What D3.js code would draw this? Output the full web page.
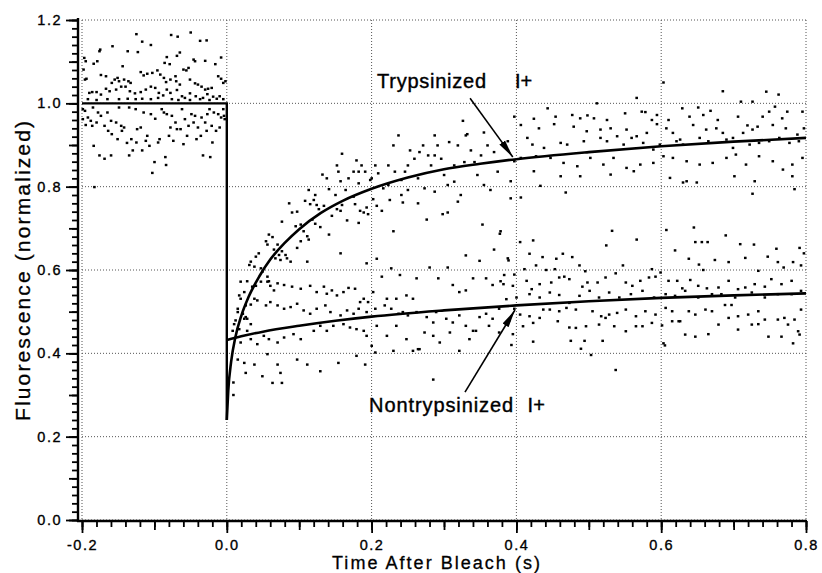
<!DOCTYPE html>
<html>
<head>
<meta charset="utf-8">
<script src="https://cdn.jsdelivr.net/npm/d3@7"></script>
<style>
  body { margin: 0; background: #fff; }
  svg text { font-family: "Liberation Sans", Arial, Helvetica, sans-serif; fill: #000; }
</style>
</head>
<body>
<div id="chart"></div>
<script>
// tick values
var xTicks = [-0.2, 0.0, 0.2, 0.4, 0.6, 0.8];
var yTicks = [0.0, 0.2, 0.4, 0.6, 0.8, 1.0, 1.2];

// fitted curves [time (s), fluorescence]
var preBleachFit = [[-0.2, 1.0], [0.0, 1.0], [0.0, 0.24]];
var trypsFit = [[0.000,0.24],[0.002,0.31],[0.006,0.38],[0.012,0.44],[0.020,0.49],[0.030,0.535],
  [0.045,0.585],[0.060,0.625],[0.080,0.665],[0.100,0.698],[0.130,0.737],[0.160,0.766],[0.200,0.795],
  [0.250,0.822],[0.300,0.842],[0.350,0.855],[0.400,0.866],[0.500,0.883],[0.600,0.897],[0.700,0.908],[0.800,0.917]];
var nontrypsFit = [[0.000,0.432],[0.020,0.441],[0.050,0.452],[0.100,0.466],[0.150,0.478],[0.200,0.488],
  [0.300,0.503],[0.400,0.515],[0.500,0.525],[0.600,0.533],[0.700,0.539],[0.800,0.544]];

// raw points before the bleach
var preBleachDots = [
  [-0.125,1.166],[-0.077,1.164],[-0.068,1.160],[-0.050,1.170],[-0.037,1.150],[-0.028,1.151],[-0.117,1.148],[-0.105,1.140],
  [-0.158,1.137],[-0.175,1.129],[-0.176,1.125],[-0.137,1.125],[-0.123,1.123],[-0.065,1.122],[-0.069,1.114],[-0.083,1.111],
  [-0.046,1.105],[-0.044,1.101],[-0.008,1.110],[-0.030,1.102],[-0.016,1.094],[-0.079,1.094],[-0.086,1.097],[-0.197,1.109],
  [-0.195,1.101],[-0.179,1.101],[-0.184,1.095],[-0.144,1.089],[-0.198,1.081],[-0.196,1.057],[-0.194,1.059],[-0.174,1.068],
  [-0.167,1.065],[-0.155,1.057],[-0.159,1.049],[-0.151,1.061],[-0.149,1.053],[-0.142,1.057],[-0.136,1.053],[-0.133,1.049],
  [-0.119,1.075],[-0.115,1.067],[-0.110,1.071],[-0.103,1.073],[-0.096,1.079],[-0.092,1.069],[-0.087,1.061],[-0.084,1.051],
  [-0.078,1.057],[-0.071,1.065],[-0.070,1.053],[-0.065,1.045],[-0.060,1.081],[-0.056,1.079],[-0.053,1.085],[-0.051,1.057],
  [-0.044,1.048],[-0.040,1.045],[-0.035,1.040],[-0.030,1.033],[-0.026,1.035],[-0.021,1.037],[-0.012,1.065],[-0.008,1.059],
  [-0.005,1.049],[-0.002,1.053],[-0.190,1.025],[-0.186,1.027],[-0.180,1.027],[-0.174,1.021],[-0.167,1.035],[-0.162,1.029],
  [-0.153,1.033],[-0.146,1.040],[-0.140,1.040],[-0.134,1.029],[-0.127,1.024],[-0.119,1.027],[-0.112,1.033],[-0.105,1.040],
  [-0.099,1.037],[-0.094,1.025],[-0.088,1.019],[-0.083,1.033],[-0.078,1.025],[-0.069,1.032],[-0.062,1.017],[-0.058,1.013],
  [-0.051,1.024],[-0.043,1.017],[-0.033,1.013],[-0.027,1.022],[-0.019,1.016],[-0.014,1.011],[-0.010,1.017],[-0.005,1.010],
  [-0.192,1.010],[-0.180,1.008],[-0.165,1.010],[-0.149,1.010],[-0.137,1.011],[-0.126,1.010],[-0.117,1.011],[-0.105,1.010],
  [-0.095,1.013],[-0.076,1.010],[-0.067,1.008],[-0.051,1.008],[-0.037,1.010],[-0.024,1.008],
  [-0.196,0.982],[-0.192,0.966],[-0.188,0.958],[-0.185,0.990],[-0.180,0.954],[-0.178,0.978],[-0.174,0.970],[-0.169,0.946],
  [-0.165,0.978],[-0.160,0.958],[-0.159,0.926],[-0.153,0.954],[-0.149,0.990],[-0.146,0.946],[-0.142,0.942],[-0.135,0.990],
  [-0.132,0.914],[-0.126,0.986],[-0.124,0.938],[-0.119,0.942],[-0.115,0.978],[-0.110,0.922],[-0.105,0.974],[-0.099,0.963],
  [-0.095,0.906],[-0.090,0.986],[-0.087,0.978],[-0.083,0.974],[-0.080,0.922],[-0.076,0.970],[-0.071,0.954],[-0.069,0.938],
  [-0.062,0.986],[-0.058,0.962],[-0.053,0.946],[-0.049,0.974],[-0.044,0.970],[-0.040,0.942],[-0.035,0.966],[-0.030,0.954],
  [-0.028,0.934],[-0.024,0.986],[-0.021,0.946],[-0.015,0.934],[-0.010,0.942],[-0.008,0.966],[-0.005,0.986],[-0.184,0.898],
  [-0.176,0.875],[-0.169,0.867],[-0.160,0.875],[-0.135,0.875],[-0.130,0.887],[-0.117,0.887],[-0.103,0.833],[-0.100,0.859],
  [-0.085,0.871],[-0.084,0.852],[-0.060,0.902],[-0.042,0.914],[-0.033,0.875],[-0.023,0.871],[-0.020,0.906],[-0.199,0.986],
  [-0.199,0.962],[-0.195,0.948],[-0.186,0.946],[-0.164,0.934],[-0.151,0.914],[-0.145,0.934],[-0.138,0.905],[-0.125,0.906],
  [-0.112,0.910],[-0.107,0.898],[-0.093,0.914],[-0.078,0.942],[-0.074,0.910],[-0.064,0.938],[-0.055,0.922],[-0.046,0.954],
  [-0.036,0.922],[-0.027,0.974],[-0.018,0.978],[-0.012,0.974],[-0.004,0.970],[-0.003,0.962],[-0.183,0.799]
];

// raw points, trypsinized cells
var trypsDots = [
  [0.086,0.760],[0.090,0.738],[0.097,0.740],[0.108,0.766],[0.115,0.758],[0.120,0.768],[0.124,0.756],[0.127,0.746],
  [0.134,0.754],[0.145,0.730],[0.152,0.746],[0.157,0.742],[0.159,0.756],[0.177,0.758],[0.184,0.742],[0.189,0.738],
  [0.193,0.750],[0.195,0.734],[0.202,0.770],[0.207,0.754],[0.214,0.742],[0.225,0.768],[0.230,0.693],[0.243,0.762],
  [0.264,0.760],[0.276,0.721],[0.298,0.734],[0.305,0.738],[0.319,0.764],[0.353,0.709],[0.369,0.649],[0.378,0.693],
  [0.388,0.628],[0.392,0.772],[0.076,0.716],[0.095,0.705],[0.102,0.709],[0.106,0.693],[0.111,0.681],[0.113,0.673],
  [0.118,0.721],[0.122,0.711],[0.129,0.703],[0.141,0.685],[0.166,0.719],[0.182,0.713],[0.058,0.685],[0.063,0.679],
  [0.054,0.669],[0.056,0.661],[0.070,0.661],[0.076,0.645],[0.081,0.636],[0.083,0.628],[0.067,0.628],[0.074,0.624],
  [0.088,0.620],[0.044,0.640],[0.040,0.632],[0.033,0.620],[0.031,0.612],[0.038,0.608],[0.047,0.604],[0.049,0.596],
  [0.056,0.584],[0.065,0.649],[0.072,0.636],[0.157,0.640],[0.111,0.620],[0.097,0.653],[0.102,0.669],[0.207,0.627],
  [0.330,0.635],[0.349,0.622],[0.193,0.616],
  [0.019,0.572],[0.028,0.573],[0.035,0.560],[0.040,0.562],[0.024,0.547],[0.017,0.539],[0.019,0.531],[0.026,0.515],
  [0.033,0.517],[0.015,0.507],[0.022,0.495],[0.026,0.487],[0.012,0.479],[0.010,0.470],[0.017,0.458],[0.008,0.454],
  [0.028,0.483],[0.033,0.470],[0.038,0.531],[0.042,0.527],[0.047,0.572],[0.058,0.573],[0.060,0.562],[0.065,0.551],
  [0.132,0.829],[0.138,0.820],[0.141,0.794],[0.152,0.851],[0.154,0.836],[0.157,0.813],[0.159,0.879],[0.164,0.792],
  [0.168,0.820],[0.175,0.836],[0.179,0.863],[0.182,0.808],[0.186,0.851],[0.191,0.836],[0.198,0.816],[0.205,0.851],
  [0.209,0.832],[0.216,0.796],[0.223,0.804],[0.230,0.899],[0.232,0.836],[0.237,0.923],[0.241,0.816],[0.246,0.836],
  [0.253,0.887],[0.259,0.867],[0.264,0.820],[0.266,0.883],[0.271,0.899],[0.273,0.796],[0.278,0.875],[0.282,0.851],
  [0.287,0.923],[0.291,0.899],[0.296,0.867],[0.300,0.828],[0.307,0.907],[0.314,0.812],[0.319,0.899],[0.326,0.958],
  [0.330,0.923],[0.332,0.926],[0.337,0.887],[0.342,0.859],[0.346,0.828],[0.351,0.875],[0.355,0.930],[0.360,0.899],
  [0.364,0.792],[0.369,0.883],[0.374,0.836],[0.241,0.780],[0.250,0.792],[0.287,0.788],[0.305,0.804],[0.323,0.780],
  [0.355,0.804],[0.113,0.792],[0.122,0.780],[0.150,0.780],[0.175,0.776],[0.328,0.859],[0.314,0.851],[0.287,0.875],
  [0.250,0.851],[0.223,0.851],[0.200,0.820],[0.182,0.836],
  [0.566,1.013],[0.603,1.050],[0.511,1.000],[0.710,1.004],[0.726,1.004],[0.685,1.029],[0.745,1.028],[0.762,1.021],
  [0.443,0.988],[0.454,0.968],[0.424,0.963],[0.397,0.968],[0.477,0.972],[0.488,0.964],[0.498,0.971],[0.507,0.964],
  [0.525,0.960],[0.550,0.976],[0.573,0.980],[0.578,0.979],[0.587,0.960],[0.594,0.972],[0.610,0.960],[0.629,0.988],
  [0.639,0.968],[0.651,0.990],[0.658,0.972],[0.668,0.982],[0.678,0.960],[0.706,0.968],[0.719,0.947],[0.740,0.968],
  [0.749,0.980],[0.757,0.992],[0.767,0.964],[0.774,0.980],[0.795,0.980],[0.406,0.948],[0.431,0.940],[0.452,0.950],
  [0.479,0.944],[0.497,0.933],[0.516,0.937],[0.530,0.940],[0.552,0.937],[0.566,0.921],[0.580,0.929],[0.594,0.950],
  [0.607,0.940],[0.616,0.929],[0.626,0.913],[0.644,0.948],[0.662,0.937],[0.676,0.940],[0.685,0.929],[0.699,0.917],
  [0.713,0.929],[0.726,0.937],[0.733,0.944],[0.754,0.948],[0.772,0.940],[0.788,0.925],[0.797,0.940],[0.388,0.909],
  [0.415,0.917],[0.422,0.901],[0.438,0.893],[0.461,0.905],[0.470,0.901],[0.493,0.909],[0.516,0.917],[0.525,0.909],
  [0.539,0.921],[0.548,0.901],[0.559,0.917],[0.575,0.905],[0.589,0.889],[0.598,0.901],[0.621,0.909],[0.630,0.901],
  [0.653,0.917],[0.665,0.909],[0.690,0.913],[0.699,0.893],[0.722,0.901],[0.735,0.905],[0.749,0.909],[0.763,0.917],
  [0.777,0.905],[0.790,0.909],[0.397,0.861],[0.406,0.869],[0.427,0.873],[0.447,0.869],[0.465,0.857],[0.484,0.849],
  [0.502,0.869],[0.520,0.853],[0.534,0.869],[0.552,0.845],[0.571,0.853],[0.589,0.857],[0.603,0.873],[0.616,0.869],
  [0.635,0.861],[0.653,0.853],[0.671,0.857],[0.690,0.869],[0.703,0.877],[0.717,0.853],[0.735,0.873],[0.754,0.861],
  [0.768,0.841],[0.781,0.853],[0.795,0.869],[0.424,0.837],[0.461,0.825],[0.488,0.825],[0.530,0.829],[0.562,0.837],
  [0.612,0.821],[0.630,0.810],[0.635,0.813],[0.649,0.810],[0.701,0.825],[0.729,0.813],[0.781,0.825],[0.433,0.802],
  [0.468,0.786],[0.784,0.794],[0.726,0.783],[0.406,0.774],[0.392,0.813]
];

// raw points, nontrypsinized cells
var nontrypsDots = [
  [0.009,0.330],[0.009,0.300],
  [0.056,0.572],[0.070,0.568],[0.079,0.564],[0.090,0.560],[0.102,0.555],[0.115,0.562],[0.124,0.547],[0.134,0.560],
  [0.138,0.543],[0.145,0.551],[0.152,0.539],[0.161,0.547],[0.168,0.557],[0.177,0.555],[0.184,0.523],[0.189,0.531],
  [0.195,0.523],[0.202,0.547],[0.214,0.584],[0.221,0.531],[0.227,0.604],[0.234,0.531],[0.239,0.588],[0.248,0.539],
  [0.257,0.531],[0.262,0.580],[0.280,0.606],[0.292,0.580],[0.305,0.606],[0.312,0.564],[0.321,0.547],[0.330,0.551],
  [0.340,0.580],[0.358,0.580],[0.367,0.564],[0.378,0.573],[0.383,0.588],[0.397,0.589],[0.054,0.515],[0.060,0.523],
  [0.070,0.515],[0.079,0.507],[0.088,0.511],[0.097,0.519],[0.106,0.503],[0.115,0.495],[0.124,0.507],[0.136,0.515],
  [0.143,0.499],[0.157,0.491],[0.166,0.503],[0.175,0.495],[0.182,0.507],[0.193,0.499],[0.205,0.507],[0.218,0.515],
  [0.227,0.507],[0.237,0.495],[0.243,0.499],[0.250,0.491],[0.262,0.499],[0.276,0.487],[0.285,0.474],[0.289,0.499],
  [0.303,0.483],[0.312,0.474],[0.321,0.491],[0.330,0.466],[0.340,0.454],[0.349,0.487],[0.358,0.495],[0.367,0.483],
  [0.376,0.507],[0.390,0.479],[0.397,0.507],[0.015,0.499],[0.024,0.483],[0.028,0.454],[0.033,0.434],[0.042,0.422],
  [0.051,0.442],[0.058,0.434],[0.070,0.426],[0.079,0.438],[0.092,0.446],[0.102,0.434],[0.120,0.454],[0.129,0.466],
  [0.138,0.454],[0.147,0.466],[0.161,0.470],[0.170,0.462],[0.179,0.458],[0.189,0.454],[0.193,0.442],[0.200,0.418],
  [0.207,0.466],[0.221,0.442],[0.234,0.466],[0.248,0.434],[0.257,0.406],[0.264,0.410],[0.273,0.450],[0.285,0.442],
  [0.294,0.426],[0.308,0.450],[0.321,0.406],[0.335,0.434],[0.344,0.454],[0.362,0.466],[0.376,0.450],[0.395,0.446],
  [0.019,0.426],[0.015,0.385],[0.024,0.377],[0.038,0.373],[0.056,0.398],[0.070,0.373],[0.074,0.353],[0.097,0.385],
  [0.111,0.373],[0.129,0.357],[0.154,0.377],[0.179,0.394],[0.191,0.373],[0.063,0.329],[0.076,0.329],[0.049,0.345],
  [0.026,0.353],[0.285,0.337],[0.205,0.402],[0.230,0.406],[0.266,0.410],
  [0.377,0.687],[0.405,0.667],[0.423,0.671],[0.418,0.639],[0.389,0.623],[0.436,0.631],[0.455,0.627],[0.464,0.639],
  [0.477,0.631],[0.427,0.611],[0.411,0.602],[0.441,0.600],[0.453,0.602],[0.487,0.611],[0.495,0.597],[0.532,0.694],
  [0.524,0.659],[0.566,0.673],[0.547,0.611],[0.587,0.602],[0.607,0.696],[0.619,0.647],[0.645,0.702],[0.647,0.667],
  [0.656,0.667],[0.664,0.667],[0.638,0.627],[0.652,0.613],[0.658,0.600],[0.674,0.624],[0.689,0.683],[0.693,0.619],
  [0.709,0.662],[0.716,0.629],[0.728,0.661],[0.734,0.598],[0.747,0.632],[0.759,0.651],[0.761,0.619],[0.769,0.606],
  [0.782,0.619],[0.791,0.653],[0.797,0.640],[0.793,0.611],[0.382,0.566],[0.395,0.562],[0.414,0.574],[0.421,0.554],
  [0.432,0.566],[0.448,0.570],[0.459,0.582],[0.466,0.584],[0.473,0.578],[0.491,0.560],[0.498,0.570],[0.512,0.570],
  [0.523,0.582],[0.537,0.592],[0.551,0.570],[0.560,0.562],[0.571,0.574],[0.583,0.582],[0.592,0.584],[0.599,0.594],
  [0.610,0.574],[0.622,0.574],[0.629,0.556],[0.640,0.576],[0.651,0.562],[0.663,0.556],[0.679,0.558],[0.693,0.574],
  [0.706,0.554],[0.716,0.558],[0.729,0.566],[0.743,0.560],[0.752,0.578],[0.766,0.566],[0.780,0.574],[0.793,0.550],
  [0.386,0.530],[0.400,0.534],[0.418,0.542],[0.432,0.534],[0.446,0.546],[0.459,0.540],[0.473,0.521],[0.487,0.538],
  [0.501,0.550],[0.514,0.534],[0.528,0.546],[0.542,0.534],[0.558,0.542],[0.574,0.550],[0.590,0.534],[0.606,0.542],
  [0.619,0.538],[0.633,0.550],[0.651,0.534],[0.670,0.542],[0.683,0.542],[0.702,0.534],[0.725,0.546],[0.743,0.534],
  [0.761,0.542],[0.780,0.542],[0.405,0.493],[0.418,0.489],[0.437,0.505],[0.446,0.505],[0.459,0.501],[0.469,0.509],
  [0.482,0.505],[0.505,0.501],[0.517,0.489],[0.528,0.493],[0.539,0.497],[0.551,0.505],[0.565,0.489],[0.578,0.501],
  [0.592,0.493],[0.606,0.509],[0.615,0.501],[0.624,0.477],[0.638,0.501],[0.647,0.493],[0.661,0.505],[0.670,0.501],
  [0.688,0.516],[0.697,0.516],[0.706,0.489],[0.720,0.493],[0.734,0.501],[0.743,0.481],[0.761,0.481],[0.770,0.485],
  [0.784,0.481],[0.793,0.505],[0.409,0.465],[0.423,0.473],[0.432,0.485],[0.457,0.477],[0.473,0.462],[0.482,0.461],
  [0.496,0.465],[0.514,0.469],[0.523,0.485],[0.535,0.465],[0.551,0.453],[0.565,0.465],[0.574,0.465],[0.587,0.473],
  [0.601,0.467],[0.615,0.477],[0.626,0.477],[0.633,0.445],[0.647,0.440],[0.665,0.446],[0.679,0.469],[0.693,0.485],
  [0.706,0.457],[0.725,0.469],[0.734,0.470],[0.748,0.440],[0.766,0.440],[0.775,0.469],[0.789,0.453],[0.791,0.445],
  [0.393,0.420],[0.423,0.428],[0.475,0.430],[0.494,0.430],[0.489,0.411],[0.519,0.430],[0.603,0.424],[0.605,0.419],
  [0.782,0.424],[0.537,0.360],[0.503,0.396]
];

var W = 822, H = 573;
var svg = d3.select("#chart").append("svg")
  .attr("width", W).attr("height", H)
  .style("background", "#fff");

var x = d3.scaleLinear().domain([-0.2, 0.8]).range([82, 806]);
var y = d3.scaleLinear().domain([0, 1.2]).range([520, 20]);

// dotted grid, including the top and right borders
svg.append("g").selectAll("line.gx").data(xTicks).enter().append("line")
  .attr("x1", function (d) { return x(d); }).attr("x2", function (d) { return x(d); })
  .attr("y1", y(1.2)).attr("y2", y(0))
  .attr("stroke", "#555").attr("stroke-width", 1).attr("stroke-dasharray", "1,2");
svg.append("g").selectAll("line.gy").data(yTicks).enter().append("line")
  .attr("x1", x(-0.2)).attr("x2", x(0.8))
  .attr("y1", function (d) { return y(d); }).attr("y2", function (d) { return y(d); })
  .attr("stroke", "#555").attr("stroke-width", 1).attr("stroke-dasharray", "1,2");

// axes: minor ticks every 0.02, middle ticks at 0.1, labelled ticks at 0.2
var minorX = d3.range(-10, 41).map(function (i) { return i / 50; });
var midX = d3.range(-2, 9).map(function (i) { return i / 10; });
var minorY = d3.range(0, 61).map(function (i) { return i / 50; });
var midY = d3.range(0, 13).map(function (i) { return i / 10; });

// plain hyphen for negatives, like the original
var fmt = function (d) { return d3.format(".1f")(d).replace("\u2212", "-"); };

function styleAxis(g) {
  g.select(".domain").remove();
  g.selectAll(".tick line").attr("stroke", "#000").attr("stroke-width", 1.8);
  g.selectAll(".tick text")
    .style("font-size", "14.5px")
    .style("letter-spacing", "1.5px")
    .attr("fill", "#000").attr("stroke", "#000").attr("stroke-width", 0.35);
}

var axX = svg.append("g").attr("transform", "translate(0,521)");
axX.append("g").call(d3.axisBottom(x).tickValues(minorX).tickSize(6).tickFormat("")).call(styleAxis);
axX.append("g").call(d3.axisBottom(x).tickValues(midX).tickSize(9).tickFormat("")).call(styleAxis);
axX.append("g").call(d3.axisBottom(x).tickValues(xTicks).tickSize(12).tickPadding(7)
  .tickFormat(fmt)).call(styleAxis);

var axY = svg.append("g").attr("transform", "translate(78,0)");
axY.append("g").call(d3.axisLeft(y).tickValues(minorY).tickSize(6).tickFormat("")).call(styleAxis);
axY.append("g").call(d3.axisLeft(y).tickValues(midY).tickSize(9).tickFormat("")).call(styleAxis);
axY.append("g").call(d3.axisLeft(y).tickValues(yTicks).tickSize(12).tickPadding(4)
  .tickFormat(fmt)).call(styleAxis);

// heavy axis lines
svg.append("line").attr("x1", 78).attr("x2", 78).attr("y1", 18).attr("y2", 522)
  .attr("stroke", "#000").attr("stroke-width", 2.4);
svg.append("line").attr("x1", 77).attr("x2", x(0.8) + 1).attr("y1", 521).attr("y2", 521)
  .attr("stroke", "#000").attr("stroke-width", 2.4);

// data points
var allDots = preBleachDots.concat(trypsDots, nontrypsDots);
svg.append("g").selectAll("rect").data(allDots).enter().append("rect")
  .attr("x", function (d) { return x(d[0]) - 1.2; })
  .attr("y", function (d) { return y(d[1]) - 1.2; })
  .attr("width", 2.6).attr("height", 2.4)
  .attr("fill", "#000");

// fits
var lineLin = d3.line().x(function (d) { return x(d[0]); }).y(function (d) { return y(d[1]); });
var lineSmooth = d3.line().x(function (d) { return x(d[0]); }).y(function (d) { return y(d[1]); })
  .curve(d3.curveMonotoneX);

svg.append("path").datum(preBleachFit).attr("d", lineLin)
  .attr("fill", "none").attr("stroke", "#000").attr("stroke-width", 2.4);
svg.append("path").datum(trypsFit).attr("d", lineSmooth)
  .attr("fill", "none").attr("stroke", "#000").attr("stroke-width", 2.6);
svg.append("path").datum(nontrypsFit).attr("d", lineSmooth)
  .attr("fill", "none").attr("stroke", "#000").attr("stroke-width", 2.6);

// arrows and labels
svg.append("defs").append("marker")
  .attr("id", "head").attr("viewBox", "0 -4 18 8")
  .attr("refX", 18).attr("refY", 0)
  .attr("markerWidth", 18).attr("markerHeight", 8)
  .attr("markerUnits", "userSpaceOnUse").attr("orient", "auto")
  .append("path").attr("d", "M0,-3.5L18,0L0,3.5Z").attr("fill", "#000");

svg.append("line")
  .attr("x1", x(0.336)).attr("y1", y(1.012)).attr("x2", x(0.395)).attr("y2", y(0.871))
  .attr("stroke", "#000").attr("stroke-width", 1.6).attr("marker-end", "url(#head)");
svg.append("line")
  .attr("x1", x(0.329)).attr("y1", y(0.307)).attr("x2", x(0.398)).attr("y2", y(0.504))
  .attr("stroke", "#000").attr("stroke-width", 1.6).attr("marker-end", "url(#head)");

function label(txt, t, v, len) {
  var el = svg.append("text").attr("x", x(t)).attr("y", y(v))
    .style("font-size", "20px").attr("stroke", "#000").attr("stroke-width", 0.4)
    .text(txt);
  if (len) el.attr("textLength", len).attr("lengthAdjust", "spacing");
}
label("Trypsinized", 0.2075, 1.037, 109);
label("I+", 0.398, 1.037);
label("Nontrypsinized", 0.1965, 0.259, 144);
label("I+", 0.4155, 0.259);

// axis titles
svg.append("text")
  .attr("x", 332).attr("y", 569)
  .attr("textLength", 208).attr("lengthAdjust", "spacing")
  .style("font-size", "18px").attr("stroke", "#000").attr("stroke-width", 0.3)
  .text("Time After Bleach (s)");
svg.append("text")
  .attr("transform", "translate(30,421) rotate(-90)")
  .attr("textLength", 300).attr("lengthAdjust", "spacing")
  .style("font-size", "21px").attr("stroke", "#000").attr("stroke-width", 0.3)
  .text("Fluorescence (normalized)");
</script>
</body>
</html>
